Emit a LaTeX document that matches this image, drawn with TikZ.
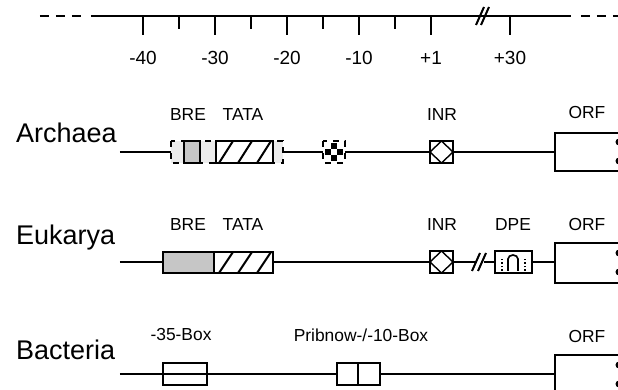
\documentclass[tikz,border=0pt]{standalone}
\usepackage{fontspec}
\setmainfont{Liberation Sans}
\begin{document}
\begin{tikzpicture}[x=0.5pt,y=-0.5pt,
    dna/.style={line width=0.9pt},
    elem/.style={draw,line width=1pt},
    tag/.style={font=\fontsize{8.7}{10}\selectfont},
    num/.style={font=\fontsize{9.5}{11}\selectfont},
    kingdom/.style={font=\fontsize{13.5}{16}\selectfont,anchor=west}]
    \useasboundingbox (0,0) rectangle (618,390);

    % Position scale
    \draw[dna,dash pattern=on 4.5pt off 3.5pt] (40,16) -- (86,16);
    \draw[dna] (91,16) -- (571,16);
    \draw[dna,dash pattern=on 4.5pt off 3.5pt] (581,16) -- (618,16);
    \draw[line width=1pt] (476,25) -- (484,7);
    \draw[line width=1pt] (481,25) -- (489,7);
    \foreach \x/\t in {143/-40,215/-30,287/-20,359/-10,431/+1,510/+30} {
        \draw[dna] (\x,16) -- (\x,35);
        \node[num] (t\x) at (\x,58) {\t};
    }
    \foreach \x in {179,251,323,395}
        \draw[dna] (\x,16) -- (\x,29);

    % Archaea
    \node[kingdom] (arch) at (9,133) {Archaea};
    \coordinate (a0) at (120,152);
    \coordinate (a1) at (555,152);
    \draw[dna] (a0) -- (a1);
    \draw[line width=1pt,dashed,fill=gray!15] (171,141) rectangle (283,163);
    \draw[elem,fill=gray!45] (184,141) rectangle (200,163);
    \draw[elem,fill=white] (216,141) rectangle (273,163);
    \begin{scope}
        \clip (216,141) rectangle (273,163);
        \foreach \k in {0,...,3}
            \draw[line width=1pt] ({219+19*\k},163) -- ({233+19*\k},141);
    \end{scope}
    \draw[elem] (216,141) rectangle (273,163);
    \node[tag] (breA) at (188,115) {BRE};
    \node[tag] (tataA) at (243,115) {TATA};
    % stippled element
    \draw[line width=1pt,dashed,fill=white] (323,141) rectangle (345,163);
    \foreach \i/\j in {1/0,0/1,2/1,1/2}
        \fill ({325+6*\i},{143+6*\j}) rectangle ({331+6*\i},{149+6*\j});
    % INR
    \draw[elem,fill=white] (430,141) rectangle (453,163);
    \draw[line width=0.7pt] (441.5,141) -- (453,152) -- (441.5,163) -- (430,152) -- cycle;
    \node[tag] (inrA) at (442,115) {INR};
    % ORF
    \draw[elem,fill=white] (555,133) rectangle (640,171);
    \fill (619,142) circle (3.5);
    \fill (619,161) circle (3.5);
    \node[tag] (orfA) at (587,113) {ORF};

    % Eukarya
    \node[kingdom] (euk) at (9,238) {Eukarya};
    \coordinate (e0) at (120,262);
    \coordinate (e1) at (475,262);
    \coordinate (e2) at (484,262);
    \coordinate (e3) at (555,262);
    \draw[dna] (e0) -- (e1);
    \draw[dna] (e2) -- (e3);
    \draw[line width=1pt] (472,271) -- (480,253);
    \draw[line width=1pt] (478,271) -- (486,253);
    \draw[elem,fill=gray!45] (163,252) rectangle (214,273);
    \draw[elem,fill=white] (214,252) rectangle (273,273);
    \begin{scope}
        \clip (214,252) rectangle (273,273);
        \foreach \k in {0,...,3}
            \draw[line width=1pt] ({219+19*\k},273) -- ({233+19*\k},252);
    \end{scope}
    \draw[elem] (214,252) rectangle (273,273);
    \node[tag] (breE) at (188,225) {BRE};
    \node[tag] (tataE) at (243,225) {TATA};
    % INR
    \draw[elem,fill=white] (430,251) rectangle (453,273);
    \draw[line width=0.7pt] (441.5,251) -- (453,262) -- (441.5,273) -- (430,262) -- cycle;
    \node[tag] (inrE) at (442,225) {INR};
    % DPE
    \draw[elem,fill=white] (495,251) rectangle (532,273);
    \draw[line width=0.8pt,densely dotted] (502,271) -- (502,257);
    \draw[line width=0.8pt,densely dotted] (525,271) -- (525,257);
    \draw[line width=0.8pt] (508,271) -- (508,259) arc[start angle=180,end angle=0,x radius=5,y radius=-4] -- (518,271);
    \node[tag] (dpe) at (513,225) {DPE};
    % ORF
    \draw[elem,fill=white] (555,243) rectangle (640,283);
    \fill (619,253) circle (3.5);
    \fill (619,272) circle (3.5);
    \node[tag] (orfE) at (587,225) {ORF};

    % Bacteria
    \node[kingdom] (bact) at (9,350) {Bacteria};
    \coordinate (b0) at (120,374);
    \coordinate (b1) at (555,374);
    \draw[dna] (b0) -- (b1);
    \draw[elem,fill=white] (163,363) rectangle (207,385);
    \draw[dna] (163,374) -- (207,374);
    \node[tag] (box35) at (181,335) {-35-Box};
    \draw[elem,fill=white] (337,363) rectangle (380,385);
    \draw[elem] (358,363) -- (358,385);
    \node[tag] (pribnow) at (361,335) {Pribnow-/-10-Box};
    % ORF
    \draw[elem,fill=white] (555,355) rectangle (640,400);
    \fill (619,365) circle (3.5);
    \fill (619,384) circle (3.5);
    \node[tag] (orfB) at (587,337) {ORF};
\end{tikzpicture}
\end{document}
